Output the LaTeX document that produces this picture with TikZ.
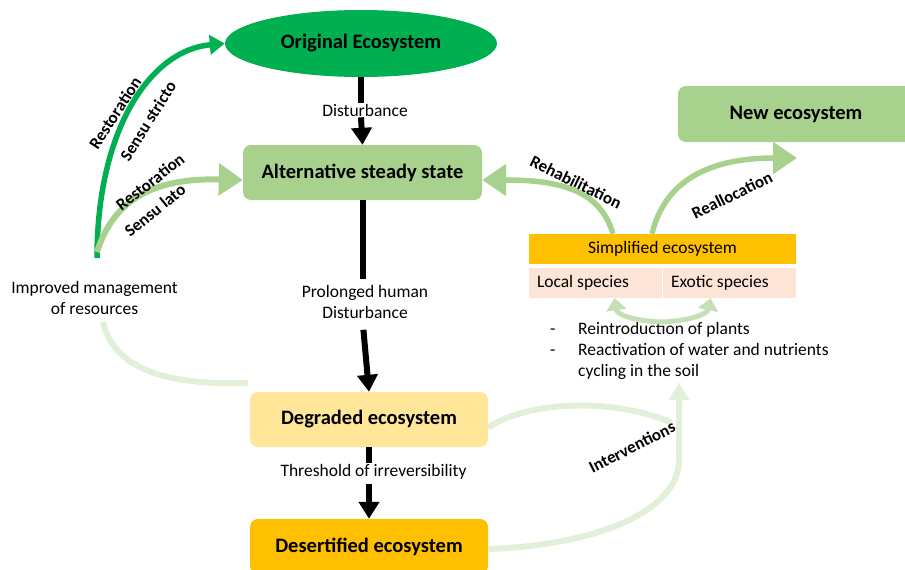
\documentclass[tikz,border=0pt]{standalone}
\usepackage{fontspec}
\setmainfont{Carlito}
\usepackage{tikz}
\usetikzlibrary{arrows.meta, shapes.geometric}
\usepackage{xcolor}

\definecolor{ecogreen}{HTML}{00B050}
\definecolor{leafgreen}{HTML}{A9D18E}
\definecolor{sagegreen}{HTML}{C5E0B4}
\definecolor{palegreen}{HTML}{E2F0D9}
\definecolor{sandyellow}{HTML}{FFE699}
\definecolor{amber}{HTML}{FFC000}
\definecolor{peach}{HTML}{FCE4D6}

\begin{document}
\begin{tikzpicture}[x=1pt, y=-1pt,
    ecobox/.style={rounded corners=8pt, minimum width=238pt, minimum height=55pt,
        font=\fontsize{20.5}{23}\selectfont\bfseries},
    lbl/.style={font=\fontsize{17.5}{21}\selectfont, align=center, inner sep=1pt},
    arclbl/.style={font=\fontsize{17}{20}\selectfont\bfseries, inner sep=0pt},
    cell/.style={fill=peach, minimum width=133pt, minimum height=30pt, inner sep=0pt},
    blackline/.style={line width=6pt, black},
    blackarrow/.style={line width=6pt, black, -{Triangle[width=20pt, length=17pt]}},
    flow/.style={line width=6pt, leafgreen, -{Triangle[width=31pt, length=24pt]}}
]

    \useasboundingbox (0,0) rectangle (905,570);

    % 1. The ecosystem states
    \node[ellipse, fill=ecogreen, minimum width=272pt, minimum height=67pt,
        font=\fontsize{20.5}{23}\selectfont\bfseries] (orig) at (361,43.5) {Original Ecosystem};
    \node[ecobox, fill=leafgreen, minimum width=239pt] (alt) at (362.5,172.5) {Alternative steady state};
    \node[ecobox, fill=sandyellow] (degr) at (369,419.5) {Degraded ecosystem};
    \node[ecobox, fill=amber] (desert) at (369,546.5) {Desertified ecosystem};
    \node[ecobox, fill=leafgreen, minimum width=236pt, minimum height=56pt] (newe) at (796,114) {New ecosystem};

    % 2. Simplified ecosystem table
    \node[lbl, fill=amber, minimum width=267pt, minimum height=30pt, inner sep=0pt] (simp) at (662.5,249) {Simplified ecosystem};
    \node[cell] (local) at (595.5,283) {};
    \node[cell] (exotic) at (729.5,283) {};
    \node[lbl, anchor=west] (localtxt) at ([xshift=7pt]local.west) {Local species};
    \node[lbl, anchor=west] (exotictxt) at ([xshift=7pt]exotic.west) {Exotic species};

    \node[lbl, anchor=west, inner sep=0pt, align=left] (steps) at (550,351) {%
        \begin{tabular}{@{}p{28pt}@{}l@{}}
        - & Reintroduction of plants\\
        - & Reactivation of water and nutrients\\
          & cycling in the soil
        \end{tabular}};

    % 3. Labels on the degradation path
    \node[lbl] (dist) at (365,110) {Disturbance};
    \node[lbl] (prol) at (365,302) {Prolonged human\\Disturbance};
    \node[lbl] (thr) at (373.5,472) {Threshold of irreversibility};
    \node[lbl] (impr) at (94.5,298) {Improved management\\of resources};

    % 4. Degradation (black arrows)
    \draw[blackline] (orig.south) -- (orig.south |- dist.north);
    \draw[blackarrow] (orig.south |- dist.south) -- (alt.north);
    \draw[blackline, shorten >=5pt] (alt.south) -- (alt.south |- prol.north);
    \draw[blackarrow, shorten <=10pt] (alt.south |- prol.south) -- (degr.north);
    \draw[blackline] (degr.south) -- (degr.south |- thr.north);
    \draw[blackarrow, shorten <=3pt] (degr.south |- thr.south) -- (desert.north);

    % 5. Free ends of the curved arrows
    \coordinate (root) at (97,258);
    \coordinate (rootb) at (97,252);
    \coordinate (realloc) at (797,158);
    \coordinate (fork) at (661,322);
    \coordinate (mgmt) at (103,322);
    \coordinate (mgmtend) at (248,383);
    \coordinate (intvend) at (672,423);
    \coordinate (intv) at (679,383);

    % 6. Restoration
    \draw[line width=5.5pt, ecogreen, -{Triangle[width=19pt, length=15pt]}]
        (root) .. controls (97,130) and (150,50) .. (orig.west);
    \draw[flow] (rootb) .. controls (115,195) and (160,178) .. ([yshift=-7.5pt]alt.west);

    % 7. Rehabilitation and reallocation
    \draw[flow, line width=5.5pt] ([xshift=-49.5pt]simp.north) .. controls (600,190) and (560,180) .. ([yshift=-7.5pt]alt.east);
    \draw[flow, line width=5.5pt] ([xshift=-10.5pt]simp.north) .. controls (665,180) and (710,158) .. (realloc);

    % 8. Back to the species
    \draw[line width=5pt, sagegreen, -{Triangle[width=20pt, length=12pt]}]
        (fork) .. controls (635,321) and (617,315) .. ([xshift=19pt]local.south);
    \draw[line width=5pt, sagegreen, -{Triangle[width=20pt, length=12pt]}]
        (fork) .. controls (687,321) and (707,315) .. ([xshift=-19pt]exotic.south);

    % 9. Interventions and management
    \draw[line width=6pt, palegreen] (mgmt) .. controls (115,375) and (180,385) .. (mgmtend);
    \draw[line width=6pt, palegreen] ([yshift=-8pt]degr.east) .. controls (530,400) and (615,398) .. (intvend);
    \draw[line width=6pt, palegreen, -{Triangle[width=20pt, length=17pt]}]
        ([yshift=-2.5pt]desert.east) .. controls (600,545) and (679,510) .. (679,460) -- (intv);

    % 10. Arc labels
    \foreach \nm/\px/\py/\ang/\txt in {
        rsa/115/113/57/Restoration, ssa/148/121/58/Sensu stricto,
        rsb/150/182/38/Restoration, ssb/155/210/39/Sensu lato,
        rehab/576/182/-26/Rehabilitation, realc/732/195/26/Reallocation,
        intl/632/447/27/Interventions
    } {
        \node[arclbl, rotate=\ang] (\nm) at (\px,\py) {\txt};
    }

\end{tikzpicture}
\end{document}
